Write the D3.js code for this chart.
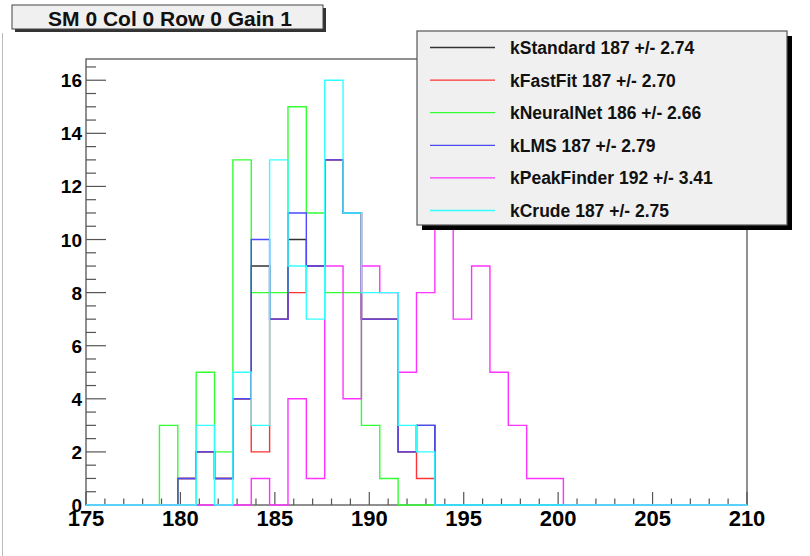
<!DOCTYPE html>
<html><head><meta charset="utf-8">
<script src="https://cdn.jsdelivr.net/npm/d3@7"></script>
<style>body{margin:0;background:#fff}svg{display:block}</style>
</head><body>
<svg id="c" width="810" height="556"></svg>
<script>
// ---- data ----
const binLow = 175, binHigh = 210, nBins = 36;
const xTicks = [175, 180, 185, 190, 195, 200, 205, 210];
const yTicks = [0, 2, 4, 6, 8, 10, 12, 14, 16];
const title = "SM 0 Col 0 Row 0 Gain 1";
const seriesNames = ["kStandard 187 +/- 2.74", "kFastFit 187 +/- 2.70", "kNeuralNet 186 +/- 2.66",
                     "kLMS 187 +/- 2.79", "kPeakFinder 192 +/- 3.41", "kCrude 187 +/- 2.75"];
const seriesColors = ["#333333", "#ff3333", "#33ff33", "#4a4aff", "#ff33ff", "#33ffff"];
//                 0 1 2 3 4 5 6 7 8  9 10 11 12 13 14 15 16 17 18 19 20 21 22 23 24 25 ...
const kStandard  = [0,0,0,0,0,1,2,1,4, 9, 7,10, 9,13,11, 7, 7, 2, 3, 0, 0, 0, 0, 0, 0, 0, 0,0,0,0,0,0,0,0,0,0];
const kFastFit   = [0,0,0,0,0,1,2,1,4, 2, 7, 8, 9,13,11, 7, 7, 2, 1, 0, 0, 0, 0, 0, 0, 0, 0,0,0,0,0,0,0,0,0,0];
const kNeuralNet = [0,0,0,0,3,0,5,2,13,8, 8,15,11, 8, 8, 3, 1, 0, 0, 0, 0, 0, 0, 0, 0, 0, 0,0,0,0,0,0,0,0,0,0];
const kLMS       = [0,0,0,0,0,1,2,1,4,10, 7,11, 9,13,11, 7, 7, 2, 3, 0, 0, 0, 0, 0, 0, 0, 0,0,0,0,0,0,0,0,0,0];
const kPeakFinder= [0,0,0,0,0,0,0,0,0, 1, 0, 4, 1, 9, 4, 9, 8, 5, 8,13, 7, 9, 5, 3, 1, 1, 0,0,0,0,0,0,0,0,0,0];
const kCrude     = [0,0,0,0,0,0,3,0,5, 3,13, 9, 7,16,11, 8, 8, 3, 2, 0, 0, 0, 0, 0, 0, 0, 0,0,0,0,0,0,0,0,0,0];
const allSeries = [kStandard, kFastFit, kNeuralNet, kLMS, kPeakFinder, kCrude];

// ---- layout ----
const svg = d3.select("#c");
const L = 86, R = 747, T = 59, B = 505;
const x = d3.scaleLinear().domain([binLow, binHigh]).range([L, R]);
const y = d3.scaleLinear().domain([0, 16.8]).range([B, T]);
const bw = (binHigh - binLow) / nBins;
const axisCol = "#555";
const font = "'Liberation Sans', Arial, Helvetica, sans-serif";

// canvas border on left
svg.append("line").attr("x1", 2.5).attr("x2", 2.5).attr("y1", 33).attr("y2", 556)
  .attr("stroke", "#bbb").attr("stroke-width", 1);

// frame
svg.append("rect").attr("x", L).attr("y", T).attr("width", R - L).attr("height", B - T)
  .attr("fill", "none").attr("stroke", axisCol).attr("stroke-width", 1.3);

// x ticks
const xMinor = d3.range(binLow, binHigh + 0.001, 1);
svg.append("g").selectAll("line").data(xMinor).enter().append("line")
  .attr("x1", d => x(d)).attr("x2", d => x(d))
  .attr("y1", B).attr("y2", d => B - (d % 5 === 0 ? 13 : 6.5))
  .attr("stroke", axisCol).attr("stroke-width", 1.2);
svg.append("g").selectAll("text").data(xTicks).enter().append("text")
  .attr("x", d => x(d)).attr("y", 526).attr("text-anchor", "middle")
  .attr("font-family", font).attr("font-weight", "bold").attr("font-size", 22)
  .attr("fill", "#000").text(d => d);

// y ticks
const yMinor = d3.range(0, 16.8, 0.5);
svg.append("g").selectAll("line").data(yMinor).enter().append("line")
  .attr("y1", d => y(d)).attr("y2", d => y(d))
  .attr("x1", L).attr("x2", d => L + (d % 2 === 0 ? 20 : 10))
  .attr("stroke", axisCol).attr("stroke-width", 1.2);
svg.append("g").selectAll("text").data(yTicks).enter().append("text")
  .attr("x", 82).attr("y", d => y(d) + 7).attr("text-anchor", "end")
  .attr("font-family", font).attr("font-weight", "bold").attr("font-size", 19)
  .attr("fill", "#000").text(d => d);

// histograms
function stepPath(vals) {
  const pts = [[x(binLow), y(0)]];
  vals.forEach((v, i) => {
    const x0 = binLow + i * bw, x1 = binLow + (i + 1) * bw;
    pts.push([x(x0), y(v)]);
    pts.push([x(x1), y(v)]);
  });
  pts.push([x(binHigh), y(0)]);
  return d3.line()(pts);
}
allSeries.forEach((s, i) => {
  svg.append("path").attr("d", stepPath(s)).attr("fill", "none")
    .attr("stroke", seriesColors[i]).attr("stroke-width", 1.4);
});

// legend
const lg = {x: 417, y: 31, w: 370, h: 194};
svg.append("rect").attr("x", lg.x + 5).attr("y", lg.y + 5).attr("width", lg.w).attr("height", lg.h).attr("fill", "#000");
svg.append("rect").attr("x", lg.x).attr("y", lg.y).attr("width", lg.w).attr("height", lg.h)
  .attr("fill", "#f0f0f0").attr("stroke", "#555").attr("stroke-width", 1.2);
const rowY = d3.scalePoint().domain(d3.range(seriesNames.length)).range([47.5, 210.5]);
seriesNames.forEach((n, i) => {
  svg.append("line").attr("x1", 430).attr("x2", 495).attr("y1", rowY(i)).attr("y2", rowY(i))
    .attr("stroke", seriesColors[i]).attr("stroke-width", 1.3);
  svg.append("text").attr("x", 510).attr("y", rowY(i) + 6.5)
    .attr("font-family", font).attr("font-weight", "bold").attr("font-size", 17.5)
    .attr("fill", "#111").text(n);
});

// title box
svg.append("rect").attr("x", 15).attr("y", 8).attr("width", 311).attr("height", 24).attr("fill", "#333");
svg.append("rect").attr("x", 12).attr("y", 5).attr("width", 311).attr("height", 24)
  .attr("fill", "#f0f0f0").attr("stroke", "#444").attr("stroke-width", 1);
svg.append("text").attr("x", 170).attr("y", 26).attr("text-anchor", "middle")
  .attr("font-family", font).attr("font-weight", "bold").attr("font-size", 21)
  .attr("fill", "#111").text(title);
</script>
</body></html>
